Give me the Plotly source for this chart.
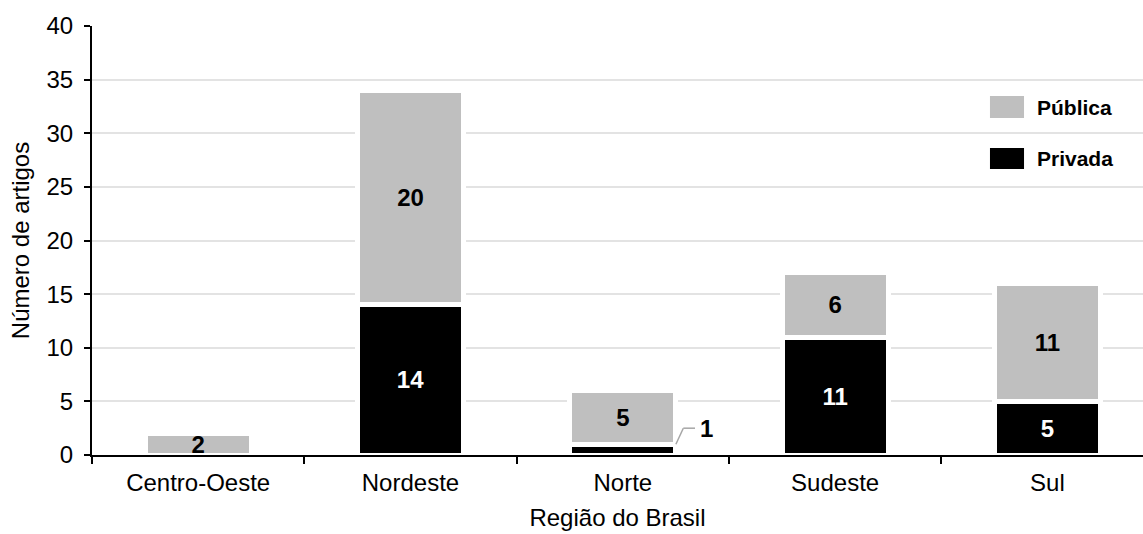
import plotly.graph_objects as go

categorias = ["Centro-Oeste", "Nordeste", "Norte", "Sudeste", "Sul"]
privada = [0, 14, 1, 11, 5]
publica = [2, 20, 5, 6, 11]
y_ticks = [0, 5, 10, 15, 20, 25, 30, 35, 40]

FONT = "Liberation Sans, Arial, sans-serif"
GRAY = "#bfbfbf"
BAR_W = 0.5
FS = 24

def bar_text(vals):
    return [str(v) if v >= 2 else "" for v in vals]

fig = go.Figure()
fig.add_trace(go.Bar(
    x=categorias, y=[v if v else None for v in privada], name="Privada",
    marker=dict(color="black", line=dict(color="white", width=5)),
    width=BAR_W, text=bar_text(privada), textposition="inside", textangle=0,
    insidetextanchor="middle", constraintext="none", cliponaxis=False,
    textfont=dict(family=FONT, size=FS, color="white", weight="bold"),
    showlegend=False, hoverinfo="skip",
))
fig.add_trace(go.Bar(
    x=categorias, y=publica, name="Pública",
    marker=dict(color=GRAY, line=dict(color="white", width=5)),
    width=BAR_W, text=bar_text(publica), textposition="inside", textangle=0,
    insidetextanchor="middle", constraintext="none", cliponaxis=False,
    textfont=dict(family=FONT, size=FS, color="black", weight="bold"),
    showlegend=False, hoverinfo="skip",
))

shapes = []
annotations = []
# leader labels for small values
for i, v in enumerate(privada):
    if 0 < v < 2:
        xe = i + BAR_W / 2
        shapes.append(dict(type="line", xref="x", yref="y", x0=xe, y0=v, x1=xe + 0.035, y1=v + 1.5,
                           line=dict(color="#a6a6a6", width=1.5)))
        shapes.append(dict(type="line", xref="x", yref="y", x0=xe + 0.035, y0=v + 1.5, x1=xe + 0.09, y1=v + 1.5,
                           line=dict(color="#a6a6a6", width=1.5)))
        annotations.append(dict(x=xe + 0.105, y=v + 1.5, xref="x", yref="y", text=str(v), showarrow=False,
                                xanchor="left", yanchor="middle",
                                font=dict(family=FONT, size=FS, color="black", weight="bold")))

# custom legend
legend_items = [("Pública", GRAY, 0.8368, 0.7855), ("Privada", "black", 0.7156, 0.6667)]
for name, col, ytop, ybot in legend_items:
    shapes.append(dict(type="rect", xref="paper", yref="paper", x0=0.8544, x1=0.8868, y0=ybot, y1=ytop,
                       fillcolor=col, line=dict(width=0)))
    annotations.append(dict(x=0.8973, y=(ytop + ybot) / 2, xref="paper", yref="paper", text=name,
                            showarrow=False, xanchor="left", yanchor="middle",
                            font=dict(family=FONT, size=21, color="black", weight="bold")))

fig.update_layout(
    width=1143, height=534,
    margin=dict(l=92, r=0, t=26, b=79),
    barmode="stack",
    plot_bgcolor="white", paper_bgcolor="white",
    font=dict(family=FONT, size=FS, color="black"),
    shapes=shapes, annotations=annotations,
    showlegend=False,
)
fig.update_xaxes(
    type="category", categoryorder="array", categoryarray=categorias,
    range=[-0.5, 4.45], showline=True, linecolor="black", linewidth=2,
    ticks="outside", tickson="boundaries", ticklen=7, tickwidth=1.5, tickcolor="black",
    showgrid=False, tickfont=dict(family=FONT, size=FS, color="black"), ticklabelstandoff=5,
    title=dict(text="Região do Brasil", font=dict(family=FONT, size=FS, color="black"), standoff=14),
    automargin=False,
)
fig.update_yaxes(
    range=[0, 40], tickvals=y_ticks, showline=True, linecolor="black", linewidth=2,
    ticks="outside", ticklen=6, tickwidth=1.5, tickcolor="black",
    showgrid=True, gridcolor="#e3e3e3", gridwidth=2, zeroline=False,
    tickfont=dict(family=FONT, size=FS, color="black"), ticklabelstandoff=6,
    title=dict(text="Número de artigos", font=dict(family=FONT, size=FS, color="black"), standoff=10),
    automargin=False,
)

fig.write_html("out.html")
